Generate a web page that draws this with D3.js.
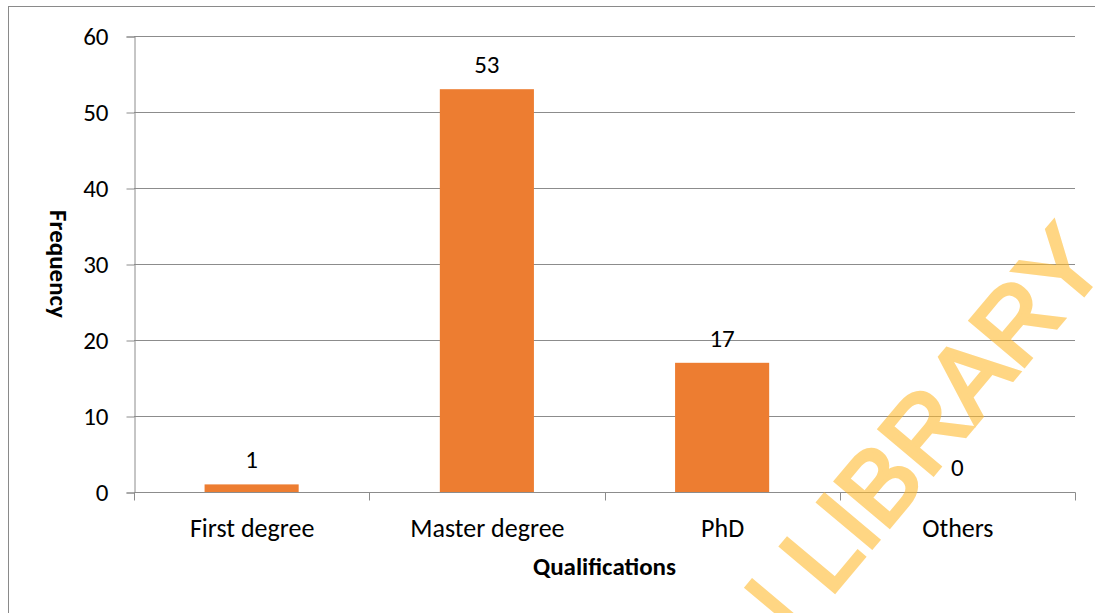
<!DOCTYPE html>
<html>
<head>
<meta charset="utf-8">
<script src="https://cdn.jsdelivr.net/npm/d3@7"></script>
<style>
  html, body { margin: 0; padding: 0; background: #fff; overflow: hidden; }
  svg { display: block; }
  text { font-family: Carlito, Calibri, Lato, "Open Sans", sans-serif; fill: #000; }
</style>
</head>
<body>
<svg id="chart" width="1095" height="613"></svg>
<script>
// Respondents by highest qualification
const categories = ["First degree", "Master degree", "PhD", "Others"];
const frequency = [1, 53, 17, 0];
const yTicks = [0, 10, 20, 30, 40, 50, 60];

const W = 1095, H = 613;
const margin = { left: 134, right: 20, top: 36, bottom: 121 };
const svg = d3.select("#chart");

// frame around the chart area
svg.append("rect")
  .attr("x", 8.5).attr("y", 6.5)
  .attr("width", W + 20).attr("height", H + 20)
  .attr("fill", "none").attr("stroke", "#8a8a8a").attr("stroke-width", 1);

const x = d3.scaleBand()
  .domain(categories)
  .range([margin.left, W - margin.right])
  .paddingInner(0.6)
  .paddingOuter(0.3);

const y = d3.scaleLinear()
  .domain([0, 60])
  .range([H - margin.bottom, margin.top]);

const gridColor = "#8c8c8c";

// horizontal gridlines
svg.append("g")
  .selectAll("line")
  .data(yTicks)
  .join("line")
  .attr("x1", margin.left).attr("x2", W - margin.right)
  .attr("y1", d => Math.round(y(d)) + 0.5).attr("y2", d => Math.round(y(d)) + 0.5)
  .attr("stroke", gridColor).attr("stroke-width", 1);

// y axis
const yAxis = svg.append("g")
  .attr("transform", `translate(${margin.left + 0.5},0.5)`)
  .call(d3.axisLeft(y).tickValues(yTicks).tickSize(8).tickPadding(18).tickFormat(d3.format("d")));
yAxis.select(".domain").attr("stroke", gridColor);
yAxis.selectAll(".tick line").attr("stroke", gridColor);
yAxis.selectAll(".tick text")
  .attr("font-size", 25).attr("fill", "#000")
  .style("font-family", "Carlito, Calibri, Lato, sans-serif");

// x axis with ticks at category boundaries
const xAxis = svg.append("g")
  .attr("transform", `translate(0.5,${Math.round(y(0)) + 0.5})`);
xAxis.append("line")
  .attr("x1", margin.left).attr("x2", W - margin.right)
  .attr("stroke", gridColor);
const bounds = d3.range(categories.length + 1).map(i => Math.round(margin.left + i * (W - margin.left - margin.right) / categories.length));
xAxis.selectAll("line.tk")
  .data(bounds)
  .join("line")
  .attr("class", "tk")
  .attr("x1", d => d).attr("x2", d => d)
  .attr("y1", 0).attr("y2", 8)
  .attr("stroke", gridColor);
xAxis.selectAll("text")
  .data(categories)
  .join("text")
  .attr("x", d => x(d) + x.bandwidth() / 2)
  .attr("y", 44)
  .attr("text-anchor", "middle")
  .attr("font-size", 26)
  .text(d => d);

// bars
svg.append("g")
  .selectAll("rect")
  .data(categories)
  .join("rect")
  .attr("x", d => x(d))
  .attr("width", x.bandwidth())
  .attr("y", (d, i) => y(frequency[i]))
  .attr("height", (d, i) => y(0) - y(frequency[i]))
  .attr("fill", "#ED7D31");

// value labels
svg.append("g")
  .selectAll("text")
  .data(categories)
  .join("text")
  .attr("x", d => x(d) + x.bandwidth() / 2)
  .attr("y", (d, i) => y(frequency[i]) - 16)
  .attr("text-anchor", "middle")
  .attr("font-size", 25)
  .text((d, i) => frequency[i]);

// axis titles
svg.append("text")
  .attr("x", (margin.left + W - margin.right) / 2)
  .attr("y", 575)
  .attr("text-anchor", "middle")
  .attr("font-size", 25)
  .attr("font-weight", "bold")
  .text("Qualifications");

svg.append("text")
  .attr("transform", "translate(50,264) rotate(90)")
  .attr("text-anchor", "middle")
  .attr("font-size", 25)
  .attr("font-weight", "bold")
  .text("Frequency");

// diagonal library watermark
svg.append("text")
  .attr("transform", "translate(764,676) rotate(-50)")
  .attr("font-size", 102)
  .attr("stroke", "#ffb92b")
  .attr("stroke-width", 4)
  .attr("opacity", 0.58)
  .style("fill", "#ffb92b")
  .style("font-family", "'Liberation Sans', Arial, sans-serif")
  .text("N LIBRARY");
</script>
</body>
</html>
